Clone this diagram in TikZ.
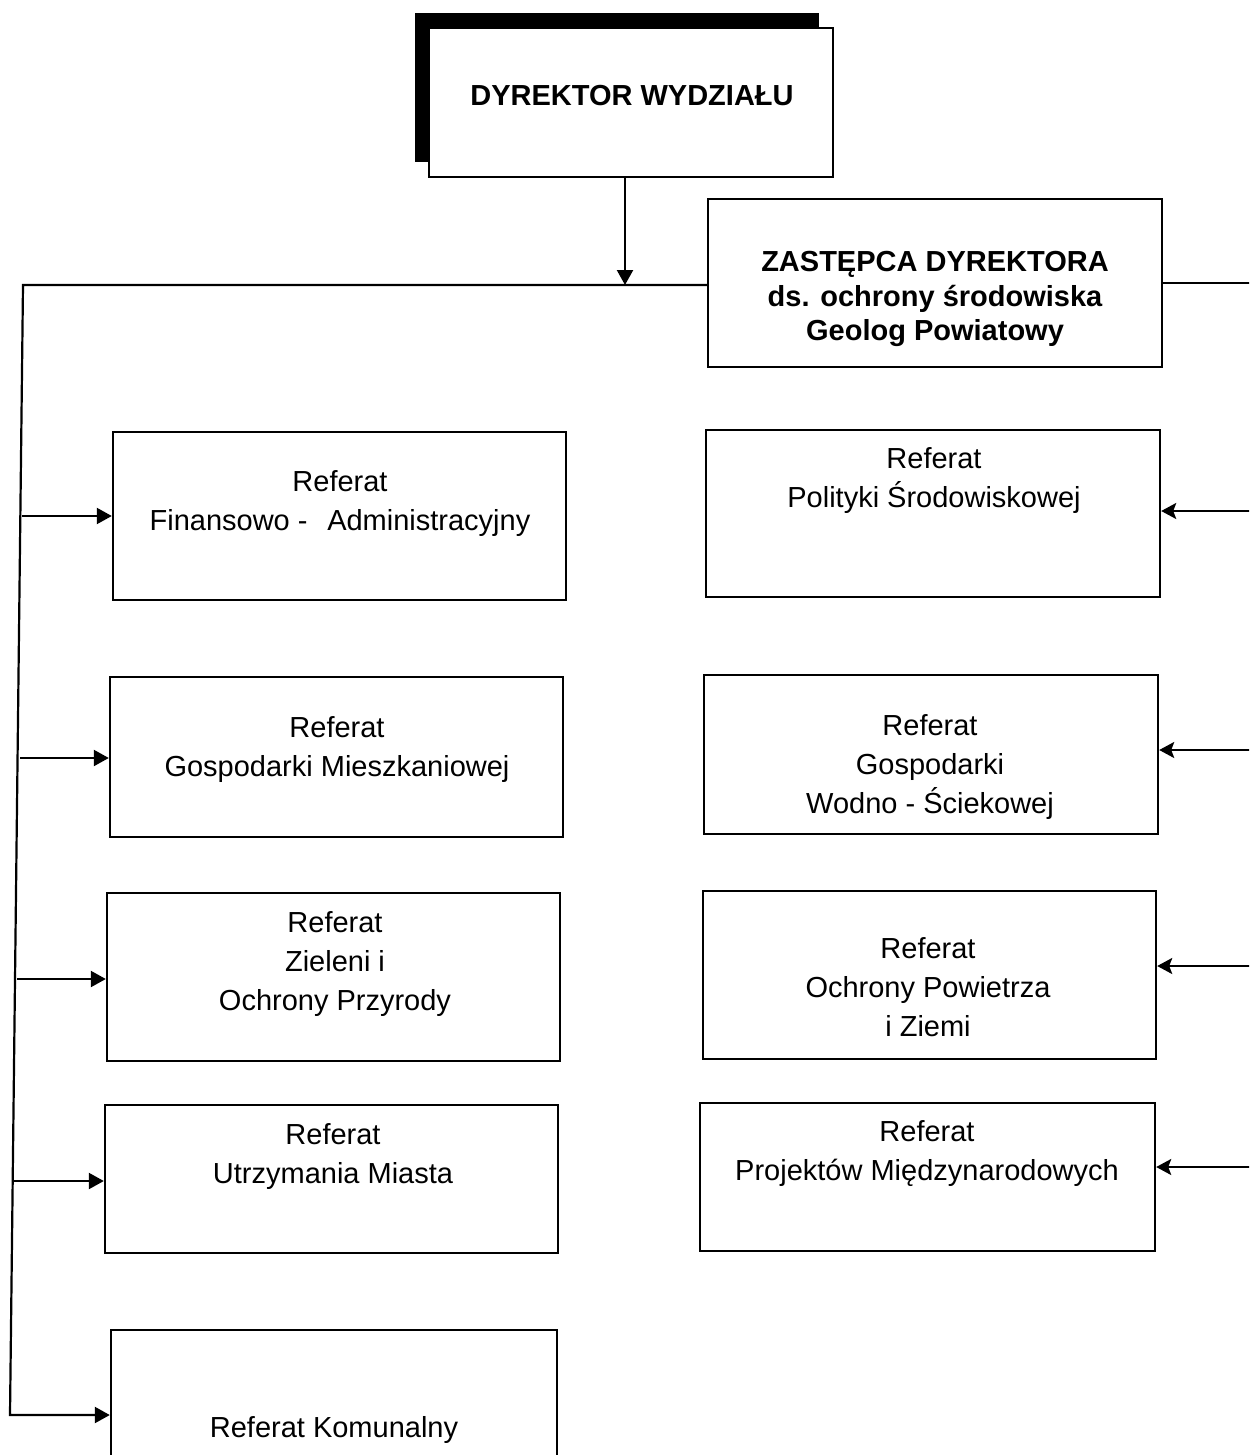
\documentclass[tikz,border=0pt]{standalone}
\usepackage{fontspec}
\setmainfont{Liberation Sans}
\usetikzlibrary{arrows.meta,fit,shadows}

\begin{document}
\begin{tikzpicture}[x=0.5pt,y=-0.5pt,
  unit/.style={draw, line width=1.2pt, fill=white, inner sep=0pt},
  lbl/.style={anchor=north, align=center, inner sep=0pt,
    font=\fontsize{14.5pt}{19.5pt}\selectfont},
  blbl/.style={anchor=north, align=center, inner sep=0pt,
    font=\fontsize{14.5pt}{17.25pt}\selectfont\bfseries},
  link/.style={line width=1.1pt},
  inarrow/.style={link, -{Triangle[length=7.5pt,width=8pt]}},
  rarrow/.style={link, -{Stealth[length=7.5pt,width=8pt,inset=1.5pt]}},
]
\useasboundingbox (0,0) rectangle (1249,1455);
\fill[white] (0,0) rectangle (1249,1455);
\clip (0,0) rectangle (1249,1455);

% head of the department, with a solid offset shadow
\node[unit, fit={(429,28) (833,177)},
  general shadow={fill=black, shadow xshift=-7pt, shadow yshift=7.5pt}] (dir) {};
\node[blbl] (dirt) at (632,85) {DYREKTOR WYDZIAŁU};

% deputy head
\node[unit, fit={(708,199) (1162,367)}] (z) {};
\node[blbl] (zt) at (935,251) {ZASTĘPCA DYREKTORA\\ds. ochrony środowiska\\Geolog Powiatowy};

% units reporting to the head
\node[unit, fit={(113,432) (566,600)}] (l1) {};
\node[lbl] (l1t) at (340,470) {Referat\\Finansowo -\hspace{0.68em}Administracyjny};
\node[unit, fit={(110,677) (563,837)}] (l2) {};
\node[lbl] (l2t) at (337,716) {Referat\\Gospodarki Mieszkaniowej};
\node[unit, fit={(107,893) (560,1061)}] (l3) {};
\node[lbl] (l3t) at (335,911) {Referat\\Zieleni i\\Ochrony Przyrody};
\node[unit, fit={(105,1105) (558,1253)}] (l4) {};
\node[lbl] (l4t) at (333,1123) {Referat\\Utrzymania Miasta};
\node[unit, fit={(111,1330) (557,1500)}] (l5) {};
\node[lbl] (l5t) at (334,1416) {Referat Komunalny};

% units reporting to the deputy
\node[unit, fit={(706,430) (1160,597)}] (r1) {};
\node[lbl] (r1t) at (934,447) {Referat\\Polityki Środowiskowej};
\node[unit, fit={(704,675) (1158,834)}] (r2) {};
\node[lbl] (r2t) at (930,714) {Referat\\Gospodarki\\Wodno - Ściekowej};
\node[unit, fit={(703,891) (1156,1059)}] (r3) {};
\node[lbl] (r3t) at (928,937) {Referat\\Ochrony Powietrza\\i Ziemi};
\node[unit, fit={(700,1103) (1155,1251)}] (r4) {};
\node[lbl] (r4t) at (927,1120) {Referat\\Projektów Międzynarodowych};

% left trunk and its branches
\coordinate (tk) at (23,285);
\coordinate (ax) at (625,285);
\coordinate (tb) at (10,1415);
\coordinate (t1) at (22,516);
\coordinate (t2) at (20,758);
\coordinate (t3) at (17,979);
\coordinate (t4) at (14,1181);
\draw[inarrow] (dir.south -| ax) -- (ax);
\draw[inarrow] (z.west |- tk) -- (tk) -- (tb) -- (l5.west |- tb);
\draw[inarrow] (t1) -- (l1.west |- t1);
\draw[inarrow] (t2) -- (l2.west |- t2);
\draw[inarrow] (t3) -- (l3.west |- t3);
\draw[inarrow] (t4) -- (l4.west |- t4);

% right trunk branches
\coordinate (zr) at (1260,283);
\coordinate (s1) at (1260,511);
\coordinate (s2) at (1260,750);
\coordinate (s3) at (1260,966);
\coordinate (s4) at (1260,1167);
\draw[link] (z.east) -- (zr);
\draw[rarrow] (s1) -- (r1.east |- s1);
\draw[rarrow] (s2) -- (r2.east |- s2);
\draw[rarrow] (s3) -- (r3.east |- s3);
\draw[rarrow] (s4) -- (r4.east |- s4);
\end{tikzpicture}
\end{document}
